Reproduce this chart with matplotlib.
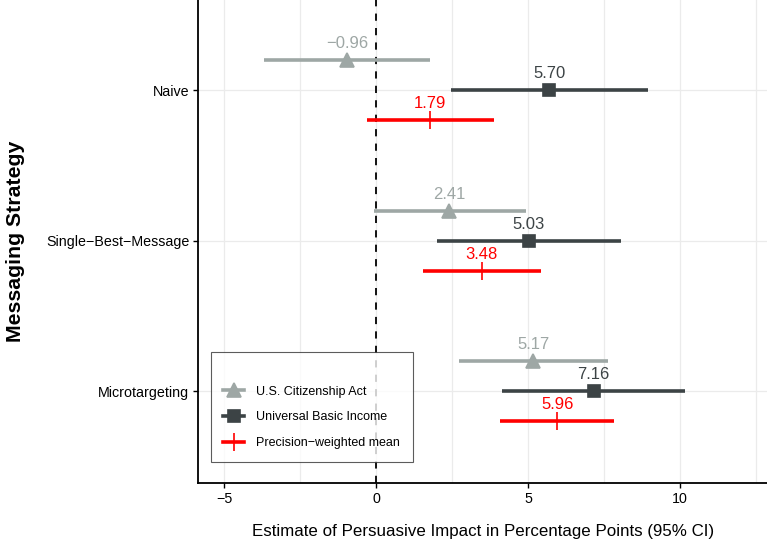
import numpy as np
import matplotlib
matplotlib.use("Agg")
import matplotlib.pyplot as plt
from matplotlib.lines import Line2D

plt.rcParams['font.family'] = ['Liberation Sans', 'DejaVu Sans']

# strategies, top to bottom
strategies = ['Naive', 'Single\u2212Best\u2212Message', 'Microtargeting']
series = ['U.S. Citizenship Act', 'Universal Basic Income', 'Precision\u2212weighted mean']

# estimates and 95% CI for each series, same order as strategies
citizen_est = [-0.96, 2.41, 5.17]
citizen_lo = [-3.68, -0.08, 2.73]
citizen_hi = [1.77, 4.93, 7.62]

ubi_est = [5.70, 5.03, 7.16]
ubi_lo = [2.47, 2.00, 4.16]
ubi_hi = [8.96, 8.06, 10.15]

pw_est = [1.79, 3.48, 5.96]
pw_lo = [-0.28, 1.55, 4.09]
pw_hi = [3.87, 5.42, 7.83]

colors = ['#9ea7a5', '#3c4345', '#ff0000']
markers = ['^', 's', '|']
msizes = [10, 8, 13]
offsets = [0.2, 0.0, -0.2]

fig = plt.figure(figsize=(7.67, 5.45), dpi=100)
ax = fig.add_axes([0.2587, 0.1138, 0.7413, 0.8862])

ypos = np.array([3, 2, 1])
data = [(citizen_est, citizen_lo, citizen_hi),
        (ubi_est, ubi_lo, ubi_hi),
        (pw_est, pw_lo, pw_hi)]

for (est, lo, hi), col, mk, ms, off in zip(data, colors, markers, msizes, offsets):
    y = ypos + off
    ax.hlines(y, lo, hi, color=col, lw=2.6, zorder=3)
    ax.plot(est, y, linestyle='none', marker=mk, ms=ms, mew=1.2, color=col, zorder=4)
    for xv, yv in zip(est, y):
        ax.text(xv, yv + 0.06, f'{xv:.2f}'.replace('-', '\u2212'), color=col,
                ha='center', va='bottom', fontsize=12)

ax.axvline(0, color='black', ls=(0, (4, 4)), lw=1.3, zorder=2)

ax.set_xlim(-5.84, 12.86)
ax.set_ylim(0.39, 3.6)
ax.set_xticks([-5, 0, 5, 10])
ax.set_xticks([-2.5, 2.5, 7.5, 12.5], minor=True)
ax.set_yticks(ypos)
ax.set_yticklabels(strategies)
ax.grid(which='major', color='#ebebeb', lw=0.9, zorder=0)
ax.grid(which='minor', axis='x', color='#ebebeb', lw=0.9, zorder=0)
ax.set_axisbelow(True)
ax.tick_params(axis='both', which='major', length=3.5, width=1.0, labelsize=10.3,
               colors='black', pad=3)
ax.tick_params(which='minor', length=0)
for s in ['top', 'right']:
    ax.spines[s].set_visible(False)
for s in ['left', 'bottom']:
    ax.spines[s].set_linewidth(1.3)

ax.set_xlabel('Estimate of Persuasive Impact in Percentage Points (95% CI)',
              fontsize=12.2, labelpad=13)
ax.set_ylabel('Messaging Strategy', fontsize=15.3, fontweight='bold', labelpad=15)

handles = []
for col, mk, ms, lab in zip(colors, markers, msizes, series):
    h = Line2D([0], [0], color=col, lw=2.6, marker=mk, ms=ms, mew=1.2, label=lab)
    handles.append(h)
# blank title leaves the empty strip at the top of the key, as in ggplot
leg = ax.legend(handles=handles, loc='lower left', bbox_to_anchor=(0.0215, 0.044),
                fontsize=9, title=' ', title_fontsize=6, frameon=True, fancybox=False,
                edgecolor='#333333', handlelength=1.7, handletextpad=0.95,
                borderpad=1.0, labelspacing=1.1, borderaxespad=0)
leg.get_frame().set_linewidth(0.8)

fig.savefig('out.png', dpi=100)
